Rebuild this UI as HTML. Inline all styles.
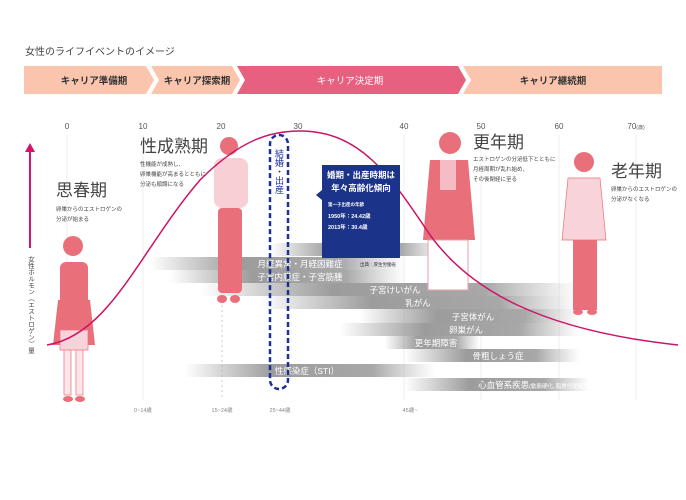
<!DOCTYPE html>
<html><head><meta charset="utf-8"><style>
body{margin:0;background:#fff;}
svg{display:block;font-family:"Liberation Sans","Noto Sans CJK JP",sans-serif;}
</style></head><body>
<svg width="686" height="500" viewBox="0 0 686 500" xmlns="http://www.w3.org/2000/svg">
<defs>
<linearGradient id="gL" x1="0" x2="1"><stop offset="0" stop-color="#999" stop-opacity="0"/><stop offset="0.35" stop-color="#9c9c9c"/><stop offset="0.75" stop-color="#a8a8a8"/><stop offset="1" stop-color="#bbb" stop-opacity="0"/></linearGradient>
</defs>
<text x="25" y="55" font-size="10" fill="#444">女性のライフイベントのイメージ</text>
<polygon points="24,66 146,66 154,80 146,94 24,94" fill="#fbc4ad"/>
<polygon points="151,66 232,66 240,80 232,94 151,94 159,80" fill="#fbc4ad"/>
<polygon points="237,66 458,66 466,80 458,94 237,94 245,80" fill="#e8607f"/>
<polygon points="463,66 662,66 662,94 463,94 471,80" fill="#fbc4ad"/>
<g font-size="9.5" font-weight="bold" text-anchor="middle" fill="#333">
<text x="94" y="84">キャリア準備期</text>
<text x="197" y="84">キャリア探索期</text>
<text x="350" y="84" fill="#fff" font-weight="normal">キャリア決定期</text>
<text x="553" y="84">キャリア継続期</text>
</g>
<g font-size="8" fill="#555" text-anchor="middle">
<text x="67" y="129">0</text><text x="143" y="129">10</text><text x="221" y="129">20</text><text x="298" y="129">30</text><text x="404" y="129">40</text><text x="481" y="129">50</text><text x="559" y="129">60</text><text x="636" y="129">70<tspan font-size="5">(歳)</tspan></text>
</g>
<g stroke="#eee" stroke-width="1">
<line x1="67" y1="135" x2="67" y2="400"/><line x1="143" y1="135" x2="143" y2="400"/><line x1="404" y1="135" x2="404" y2="400"/><line x1="481" y1="135" x2="481" y2="400"/><line x1="559" y1="135" x2="559" y2="400"/><line x1="636" y1="135" x2="636" y2="400"/>
</g>
<line x1="222" y1="300" x2="222" y2="400" stroke="#ccc" stroke-dasharray="2,3"/>
<g fill="url(#gL)">
<rect x="270" y="243" width="175" height="13"/>
<rect x="150" y="257" width="255" height="13"/>
<rect x="170" y="270" width="235" height="13"/>
<rect x="200" y="283" width="380" height="13"/>
<rect x="260" y="296" width="320" height="13"/>
<rect x="360" y="309" width="220" height="14"/>
<rect x="340" y="323" width="240" height="13"/>
<rect x="385" y="336" width="95" height="13"/>
<rect x="405" y="349" width="175" height="13"/>
<rect x="185" y="364" width="250" height="13"/>
<rect x="405" y="378" width="185" height="13"/>
</g>
<g font-size="8.5" fill="#fff" text-anchor="middle">
<text x="360" y="253">不妊</text>
<text x="300" y="267">月経異常・月経困難症</text>
<text x="300" y="280">子宮内膜症・子宮筋腫</text>
<text x="395" y="293">子宮けいがん</text>
<text x="418" y="306">乳がん</text>
<text x="473" y="320">子宮体がん</text>
<text x="466" y="333">卵巣がん</text>
<text x="436" y="346">更年期障害</text>
<text x="498" y="359">骨粗しょう症</text>
<text x="307" y="374">性感染症（STI）</text>
<text x="538" y="388">心血管系疾患<tspan font-size="5.5">(動脈硬化､脂質代謝異常etc)</tspan></text>
</g>
<g font-size="5.5" fill="#888" text-anchor="middle">
<text x="143" y="412">0~14歳</text><text x="222" y="412">15~24歳</text><text x="280" y="412">25~44歳</text><text x="410" y="412">45歳~</text>
</g>
<g fill="#e9707a">
<circle cx="73" cy="246" r="10"/><rect x="60" y="262" width="28" height="62" rx="6"/>
<polygon points="58,300 90,300 95,345 53,345"/>
<rect x="64" y="345" width="7" height="50" fill="#fde6ea" stroke="#e9707a" stroke-width="0.7"/>
<rect x="76" y="345" width="7" height="50" fill="#fde6ea" stroke="#e9707a" stroke-width="0.7"/>
<ellipse cx="68" cy="399" rx="5" ry="3"/><ellipse cx="80" cy="399" rx="5" ry="3"/>
<rect x="60" y="330" width="28" height="20" fill="#f8d3da" stroke="#e9707a" stroke-width="0.7"/>
<circle cx="229" cy="146" r="9"/><rect x="214" y="158" width="34" height="50" rx="8" fill="#f9cfd6"/>
<rect x="218" y="208" width="24" height="85" rx="4"/>
<ellipse cx="222" cy="299" rx="5" ry="4"/><ellipse cx="235" cy="299" rx="5" ry="4"/>
<circle cx="450" cy="143" r="11"/><polygon points="430,160 468,160 475,240 423,240"/>
<rect x="440" y="160" width="16" height="30" fill="#f6bcc6"/>
<rect x="428" y="240" width="40" height="50" fill="#fff" stroke="#e9a0a8" stroke-width="1"/>
<circle cx="584" cy="162" r="10"/><polygon points="568,178 600,178 606,240 562,240" fill="#f9d3da" stroke="#e9707a" stroke-width="0.7"/>
<rect x="573" y="240" width="24" height="70"/>
<ellipse cx="578" cy="312" rx="5" ry="3"/><ellipse cx="592" cy="312" rx="5" ry="3"/>
</g>
<path d="M47,345 C110,335 140,250 200,180 C240,140 270,131 300,131 C360,131 390,175 430,235 C470,290 540,330 678,345" fill="none" stroke="#cc1466" stroke-width="1.5"/>
<line x1="30" y1="248" x2="30" y2="150" stroke="#d6136b" stroke-width="2"/>
<polygon points="25,152 35,152 30,143" fill="#d6136b"/>
<text font-size="6.5" fill="#444" x="30" y="256" style="writing-mode:vertical-rl">女性ホルモン（エストロゲン）量</text>
<g fill="#444">
<text x="56" y="196" font-size="17">思春期</text>
<text x="56" y="211" font-size="5.5">卵巣からのエストロゲンの</text><text x="56" y="221" font-size="5.5">分泌が始まる</text>
<text x="140" y="152" font-size="17">性成熟期</text>
<text x="140" y="166" font-size="5.5">性機能が成熟し、</text><text x="140" y="176" font-size="5.5">卵巣機能が高まるとともに</text><text x="140" y="186" font-size="5.5">分泌も順調になる</text>
<text x="473" y="148" font-size="17">更年期</text>
<text x="473" y="161" font-size="5.5">エストロゲンの分泌低下とともに</text><text x="473" y="171" font-size="5.5">月経周期が乱れ始め、</text><text x="473" y="181" font-size="5.5">その後閉経に至る</text>
<text x="611" y="177" font-size="17">老年期</text>
<text x="611" y="191" font-size="5.5">卵巣からのエストロゲンの</text><text x="611" y="201" font-size="5.5">分泌がなくなる</text>
</g>
<rect x="270" y="135" width="18" height="254" rx="9" fill="none" stroke="#1a2f9a" stroke-width="2.5" stroke-dasharray="5,3"/>
<text x="279" y="149" font-size="9" fill="#1a2f9a" style="writing-mode:vertical-rl">結婚・出産</text>
<polygon points="322,165 400,165 400,258 322,258 322,200 316,195 322,190" fill="#1b3389"/>
<g fill="#fff" font-weight="bold">
<text x="361" y="178" font-size="8.5" text-anchor="middle">婚期・出産時期は</text>
<text x="361" y="191" font-size="8.5" text-anchor="middle">年々高齢化傾向</text>
<text x="328" y="206" font-size="4.5">第一子出産の年齢</text>
<text x="328" y="218" font-size="5.5">1950年：24.42歳</text>
<text x="328" y="229" font-size="5.5">2013年：30.4歳</text>
</g>
<text x="360" y="266" font-size="4.5" fill="#333">出典：厚生労働省</text>
</svg>
</body></html>
